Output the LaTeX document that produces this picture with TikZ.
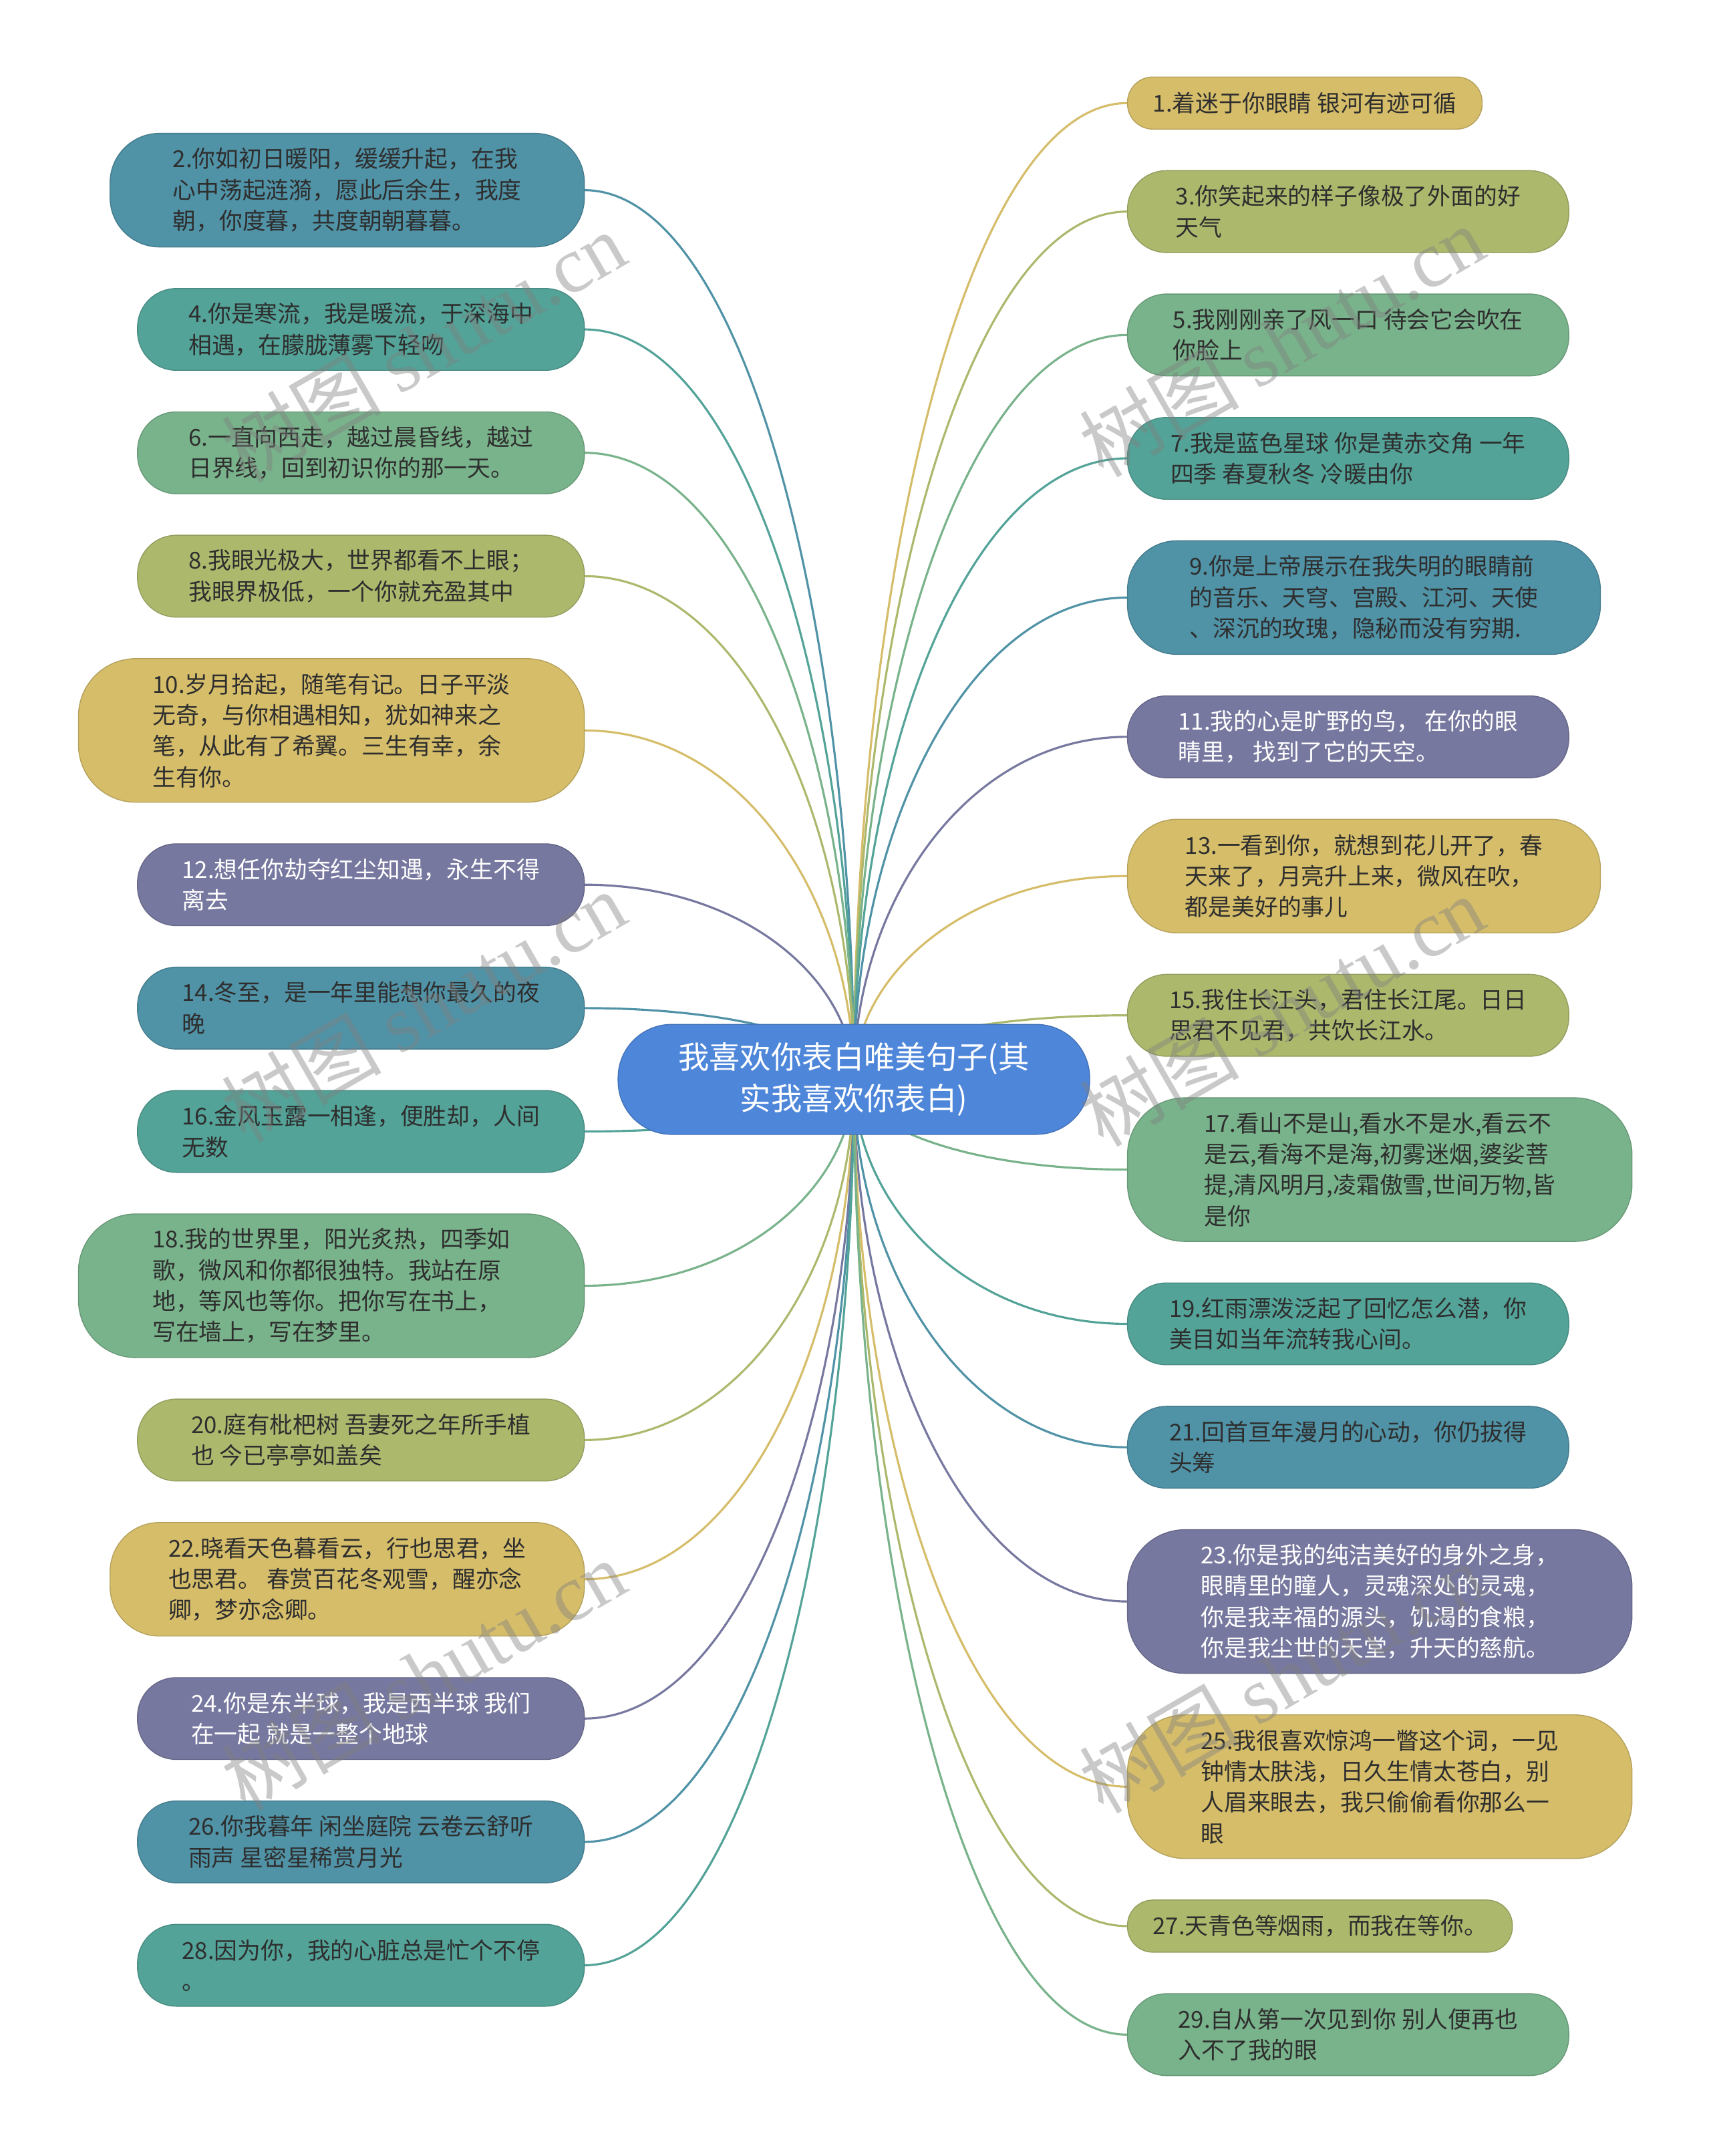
\documentclass[tikz,border=0pt]{standalone}
\usepackage{fontspec}
\newfontfamily\cjk{Noto Sans CJK SC}
\newfontfamily\wmserif{Liberation Serif}
\usetikzlibrary{positioning,calc,backgrounds}

\definecolor{cblue}{HTML}{5092A6}
\definecolor{cteal}{HTML}{53A398}
\definecolor{cgreen}{HTML}{79B38B}
\definecolor{colive}{HTML}{ACB96D}
\definecolor{cgold}{HTML}{D5BD6A}
\definecolor{cpurple}{HTML}{77789F}
\definecolor{croot}{HTML}{4E86DA}
\definecolor{ink}{HTML}{2E2E2E}

\begin{document}
\begin{tikzpicture}[
  x=0.02058cm, y=-0.02058cm,
  node distance=0.622cm,
  leaf/.style={fill=#1, draw=#1!85!black, line width=0.4pt, align=left, text=ink,
    font=\cjk\fontsize{9.9}{13.2}\selectfont, inner sep=2pt, outer sep=0pt},
  one/.style={minimum height=0.78cm, rounded corners=0.38cm},
  two/.style={minimum height=1.225cm, rounded corners=0.58cm},
  three/.style={minimum height=1.70cm, rounded corners=0.74cm},
  four/.style={minimum height=2.15cm, rounded corners=0.86cm},
  root/.style={fill=croot, draw=croot!85!black, line width=0.4pt, text=white, align=center,
    font=\cjk\fontsize{13.2}{17.6}\selectfont, minimum width=7.059cm, minimum height=1.646cm,
    rounded corners=0.8cm},
  branch/.style={line width=0.9pt,
    to path={.. controls ($(\tikztostart)!.5!(\tikztostart |- \tikztotarget)$)
      and ($(\tikztotarget)!.6!(\tikztostart |- \tikztotarget)$) .. (\tikztotarget)}},
  wmark/.style={rotate=30, text=gray, text opacity=0.42, font=\fontsize{34}{34}\selectfont}
]
  % centre
  \node[root] (root) at (621,785) {我喜欢你表白唯美句子(其\\实我喜欢你表白)};

  % left column
  \node[leaf=cblue, three, minimum width=7.10cm, anchor=north east] (n2) at (425,97)
    {2.你如初日暖阳，缓缓升起，在我\\心中荡起涟漪，愿此后余生，我度\\朝，你度暮，共度朝朝暮暮。};
  \node[leaf=cteal, two, minimum width=6.689cm, below=of n2.south east, anchor=north east] (n4)
    {4.你是寒流，我是暖流，于深海中\\相遇，在朦胧薄雾下轻吻};
  \node[leaf=cgreen, two, minimum width=6.689cm, below=of n4.south east, anchor=north east] (n6)
    {6.一直向西走，越过晨昏线，越过\\日界线，回到初识你的那一天。};
  \node[leaf=colive, two, minimum width=6.689cm, below=of n6.south east, anchor=north east] (n8)
    {8.我眼光极大，世界都看不上眼；\\我眼界极低，一个你就充盈其中};
  \node[leaf=cgold, four, minimum width=7.573cm, below=of n8.south east, anchor=north east] (n10)
    {10.岁月拾起，随笔有记。日子平淡\\无奇，与你相遇相知，犹如神来之\\笔，从此有了希翼。三生有幸，余\\生有你。};
  \node[leaf=cpurple, two, text=white, minimum width=6.689cm, below=of n10.south east, anchor=north east] (n12)
    {12.想任你劫夺红尘知遇，永生不得\\离去};
  \node[leaf=cblue, two, minimum width=6.689cm, below=of n12.south east, anchor=north east] (n14)
    {14.冬至，是一年里能想你最久的夜\\晚};
  \node[leaf=cteal, two, minimum width=6.689cm, below=of n14.south east, anchor=north east] (n16)
    {16.金风玉露一相逢，便胜却，人间\\无数};
  \node[leaf=cgreen, four, minimum width=7.573cm, below=of n16.south east, anchor=north east] (n18)
    {18.我的世界里，阳光炙热，四季如\\歌，微风和你都很独特。我站在原\\地，等风也等你。把你写在书上，\\写在墙上，写在梦里。};
  \node[leaf=colive, two, minimum width=6.689cm, below=of n18.south east, anchor=north east] (n20)
    {20.庭有枇杷树 吾妻死之年所手植\\也 今已亭亭如盖矣};
  \node[leaf=cgold, three, minimum width=7.10cm, below=of n20.south east, anchor=north east] (n22)
    {22.晓看天色暮看云，行也思君，坐\\也思君。 春赏百花冬观雪，醒亦念\\卿，梦亦念卿。};
  \node[leaf=cpurple, two, text=white, minimum width=6.689cm, below=of n22.south east, anchor=north east] (n24)
    {24.你是东半球，我是西半球 我们\\在一起 就是一整个地球};
  \node[leaf=cblue, two, minimum width=6.689cm, below=of n24.south east, anchor=north east] (n26)
    {26.你我暮年 闲坐庭院 云卷云舒听\\雨声 星密星稀赏月光};
  \node[leaf=cteal, two, minimum width=6.689cm, below=of n26.south east, anchor=north east] (n28)
    {28.因为你，我的心脏总是忙个不停\\。};

  % right column
  \node[leaf=cgold, one, minimum width=5.31cm, anchor=north west] (n1) at (820,56)
    {1.着迷于你眼睛 银河有迹可循};
  \node[leaf=colive, two, minimum width=6.606cm, below=of n1.south west, anchor=north west] (n3)
    {3.你笑起来的样子像极了外面的好\\天气};
  \node[leaf=cgreen, two, minimum width=6.606cm, below=of n3.south west, anchor=north west] (n5)
    {5.我刚刚亲了风一口 待会它会吹在\\你脸上};
  \node[leaf=cteal, two, minimum width=6.606cm, below=of n5.south west, anchor=north west] (n7)
    {7.我是蓝色星球 你是黄赤交角 一年\\四季 春夏秋冬 冷暖由你};
  \node[leaf=cblue, three, minimum width=7.08cm, below=of n7.south west, anchor=north west] (n9)
    {9.你是上帝展示在我失明的眼睛前\\的音乐、天穹、宫殿、江河、天使\\、深沉的玫瑰，隐秘而没有穷期.};
  \node[leaf=cpurple, two, text=white, minimum width=6.606cm, below=of n9.south west, anchor=north west] (n11)
    {11.我的心是旷野的鸟， 在你的眼\\睛里， 找到了它的天空。};
  \node[leaf=cgold, three, minimum width=7.08cm, below=of n11.south west, anchor=north west] (n13)
    {13.一看到你，就想到花儿开了，春\\天来了，月亮升上来，微风在吹，\\都是美好的事儿};
  \node[leaf=colive, two, minimum width=6.606cm, below=of n13.south west, anchor=north west] (n15)
    {15.我住长江头，君住长江尾。日日\\思君不见君，共饮长江水。};
  \node[leaf=cgreen, four, minimum width=7.553cm, below=of n15.south west, anchor=north west] (n17)
    {17.看山不是山,看水不是水,看云不\\是云,看海不是海,初雾迷烟,婆娑菩\\提,清风明月,凌霜傲雪,世间万物,皆\\是你};
  \node[leaf=cteal, two, minimum width=6.606cm, below=of n17.south west, anchor=north west] (n19)
    {19.红雨漂泼泛起了回忆怎么潜，你\\美目如当年流转我心间。};
  \node[leaf=cblue, two, minimum width=6.606cm, below=of n19.south west, anchor=north west] (n21)
    {21.回首亘年漫月的心动，你仍拔得\\头筹};
  \node[leaf=cpurple, four, text=white, minimum width=7.553cm, below=of n21.south west, anchor=north west] (n23)
    {23.你是我的纯洁美好的身外之身，\\眼睛里的瞳人，灵魂深处的灵魂，\\你是我幸福的源头，饥渴的食粮，\\你是我尘世的天堂，升天的慈航。};
  \node[leaf=cgold, four, minimum width=7.553cm, below=of n23.south west, anchor=north west] (n25)
    {25.我很喜欢惊鸿一瞥这个词，一见\\钟情太肤浅，日久生情太苍白，别\\人眉来眼去，我只偷偷看你那么一\\眼};
  \node[leaf=colive, one, minimum width=5.762cm, below=of n25.south west, anchor=north west] (n27)
    {27.天青色等烟雨，而我在等你。};
  \node[leaf=cgreen, two, minimum width=6.606cm, below=of n27.south west, anchor=north west] (n29)
    {29.自从第一次见到你 别人便再也\\入不了我的眼};

  \begin{pgfonlayer}{background}
    \fill[white] (0,0) rectangle (1244,1568);
    \draw[branch, cblue] (root.center) to (n2.east);
    \draw[branch, cteal] (root.center) to (n4.east);
    \draw[branch, cgreen] (root.center) to (n6.east);
    \draw[branch, colive] (root.center) to (n8.east);
    \draw[branch, cgold] (root.center) to (n10.east);
    \draw[branch, cpurple] (root.center) to (n12.east);
    \draw[branch, cblue] (root.center) to (n14.east);
    \draw[branch, cteal] (root.center) to (n16.east);
    \draw[branch, cgreen] (root.center) to (n18.east);
    \draw[branch, colive] (root.center) to (n20.east);
    \draw[branch, cgold] (root.center) to (n22.east);
    \draw[branch, cpurple] (root.center) to (n24.east);
    \draw[branch, cblue] (root.center) to (n26.east);
    \draw[branch, cteal] (root.center) to (n28.east);
    \draw[branch, cgold] (root.center) to (n1.west);
    \draw[branch, colive] (root.center) to (n3.west);
    \draw[branch, cgreen] (root.center) to (n5.west);
    \draw[branch, cteal] (root.center) to (n7.west);
    \draw[branch, cblue] (root.center) to (n9.west);
    \draw[branch, cpurple] (root.center) to (n11.west);
    \draw[branch, cgold] (root.center) to (n13.west);
    \draw[branch, colive] (root.center) to (n15.west);
    \draw[branch, cgreen] (root.center) to (n17.west);
    \draw[branch, cteal] (root.center) to (n19.west);
    \draw[branch, cblue] (root.center) to (n21.west);
    \draw[branch, cpurple] (root.center) to (n23.west);
    \draw[branch, cgold] (root.center) to (n25.west);
    \draw[branch, colive] (root.center) to (n27.west);
    \draw[branch, cgreen] (root.center) to (n29.west);
  \end{pgfonlayer}

  % watermarks
  \node[wmark] (wm1) at (308,252) {\cjk 树图 \wmserif shutu.cn};
  \node[wmark] (wm2) at (932,248) {\cjk 树图 \wmserif shutu.cn};
  \node[wmark] (wm3) at (308,732) {\cjk 树图 \wmserif shutu.cn};
  \node[wmark] (wm4) at (932,735) {\cjk 树图 \wmserif shutu.cn};
  \node[wmark] (wm5) at (308,1218) {\cjk 树图 \wmserif shutu.cn};
  \node[wmark] (wm6) at (932,1220) {\cjk 树图 \wmserif shutu.cn};

  \useasboundingbox (0,0) rectangle (1244,1568);
\end{tikzpicture}
\end{document}
